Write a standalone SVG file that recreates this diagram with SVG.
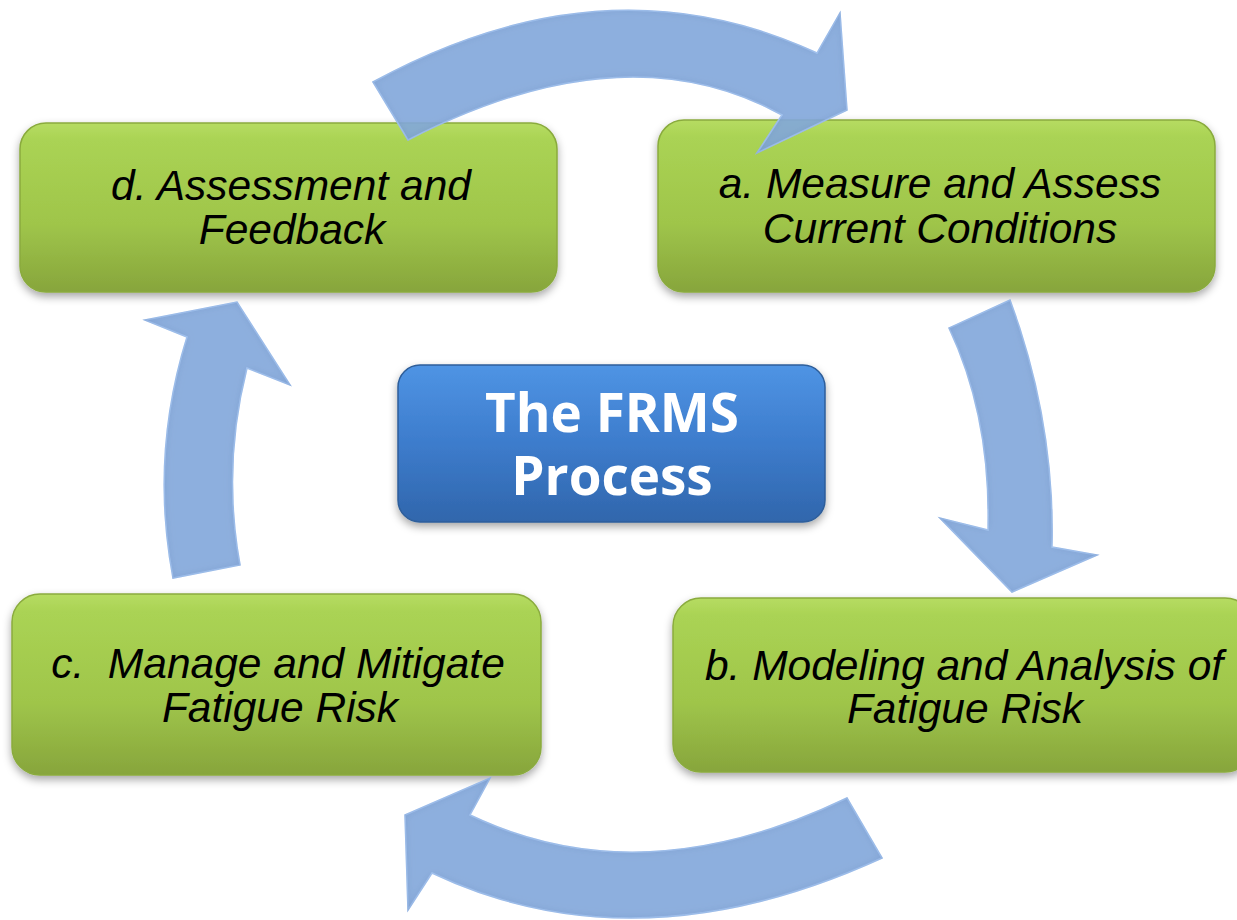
<svg xmlns="http://www.w3.org/2000/svg" width="1237" height="920" viewBox="0 0 1237 920">
<style>
.box{fill:url(#gGreen);stroke:#8aab3e;stroke-width:1.5;filter:url(#shadow)}
.lbl{font-family:"Liberation Sans",Arial,sans-serif;font-style:italic;font-size:42.5px;fill:#000;text-anchor:middle}
.ttl{font-family:"Open Sans","DejaVu Sans",sans-serif;font-weight:bold;font-size:53px;fill:#fff;text-anchor:middle}
.arr{fill:#84a8db;fill-opacity:0.9;stroke:#a9c9f4;stroke-width:1.5;stroke-linejoin:miter;filter:url(#bevel)}
</style>
<defs>
<linearGradient id="gGreen" x1="0" y1="0" x2="0" y2="1">
<stop offset="0" stop-color="#b6dc62"/>
<stop offset="0.1" stop-color="#aad354"/>
<stop offset="0.6" stop-color="#9fc54a"/>
<stop offset="1" stop-color="#87a53c"/>
</linearGradient>
<linearGradient id="gBlue" x1="0" y1="0" x2="0" y2="1">
<stop offset="0" stop-color="#4f94e4"/>
<stop offset="0.5" stop-color="#3d7ccc"/>
<stop offset="1" stop-color="#3066ac"/>
</linearGradient>
<filter id="shadow" x="-10%" y="-10%" width="120%" height="130%">
<feDropShadow dx="0" dy="4" stdDeviation="4" flood-color="#000" flood-opacity="0.35"/>
</filter>
<filter id="bevel" x="-5%" y="-5%" width="110%" height="110%">
<feGaussianBlur in="SourceAlpha" stdDeviation="5" result="b"/>
<feComposite in="SourceAlpha" in2="b" operator="out" result="edge"/>
<feFlood flood-color="#5a7fb8" flood-opacity="0.45"/>
<feComposite in2="edge" operator="in" result="shade"/>
<feMerge><feMergeNode in="SourceGraphic"/><feMergeNode in="shade"/></feMerge>
</filter>
</defs>
<rect width="1237" height="920" fill="#fff"/>
<g id="node-d">
<rect class="box" x="20" y="123" width="537" height="169" rx="26"/>
<text class="lbl" x="291" y="200">d. Assessment and</text>
<text class="lbl" x="292" y="244">Feedback</text>
</g>
<g id="node-a">
<rect class="box" x="658" y="120" width="557" height="172" rx="26"/>
<text class="lbl" x="940" y="198">a. Measure and Assess</text>
<text class="lbl" x="940" y="243">Current Conditions</text>
</g>
<g id="node-c">
<rect class="box" x="12" y="594" width="529" height="181" rx="28"/>
<text class="lbl" x="278" y="678" xml:space="preserve">c.  Manage and Mitigate</text>
<text class="lbl" x="280" y="722">Fatigue Risk</text>
</g>
<g id="node-b">
<rect class="box" x="673" y="598" width="580" height="174" rx="28"/>
<text class="lbl" x="964" y="680">b. Modeling and Analysis of</text>
<text class="lbl" x="965" y="723">Fatigue Risk</text>
</g>
<g id="node-center">
<rect x="398" y="365" width="427" height="157" rx="22" fill="url(#gBlue)" stroke="#2e5e9a" stroke-width="1.5" filter="url(#shadow)"/>
<text class="ttl"><tspan x="612" y="432">The FRMS</tspan><tspan x="612" y="495">Process</tspan></text>
</g>
<g id="connectors">
<path class="arr" d="M373,82 Q605,-45 817,53 L840,13 L847,110 L757,153 L782,115 Q625,28 408,140 Z"/>
<path class="arr" d="M1010,300 Q1055,422 1052,547 L1097,555 L1012,592 L940,518 L988,530 Q991,417 949,328 Z"/>
<path class="arr" d="M882,858 Q637,970 432,873 L408,910 L405,815 L490,778 L470,815 Q641,897 847,798 Z"/>
<path class="arr" d="M173,578 Q150,456 187,337 L145,320 L237,302 L290,385 L247,368 Q222,466 240,565 Z"/>
</g>
</svg>
